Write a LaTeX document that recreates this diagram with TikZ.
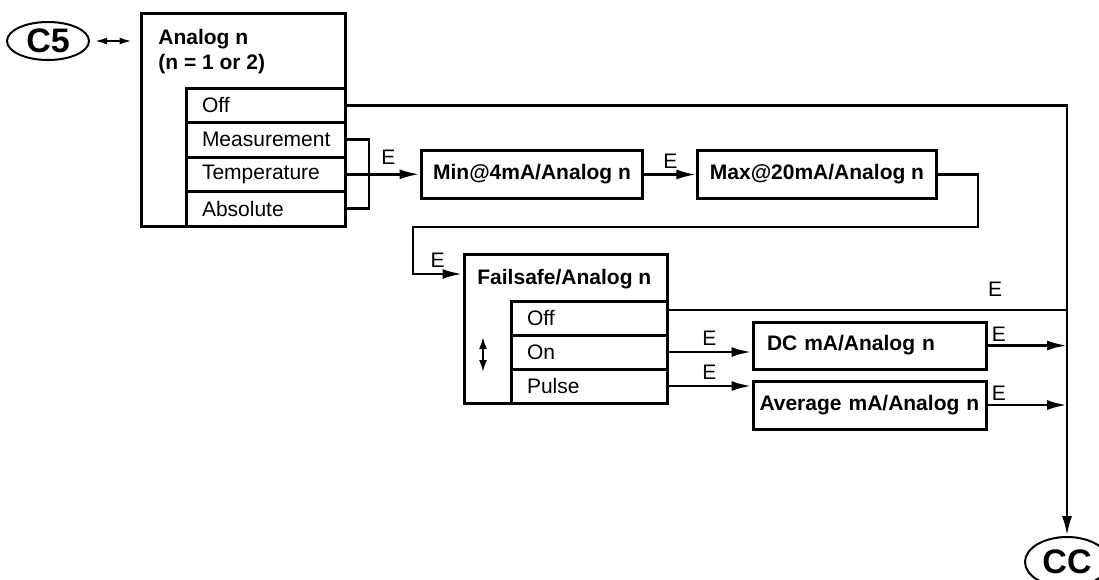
\documentclass[tikz,border=0pt]{standalone}
\usepackage{fontspec}
\setmainfont{Liberation Sans}
\usetikzlibrary{shapes.geometric, arrows.meta, positioning}

\newcommand{\menufont}{\fontsize{10.5}{12.5}\selectfont}

\begin{document}
\begin{tikzpicture}[
    x=0.5pt, y=-0.5pt,
    every node/.style={font=\menufont},
    frame/.style={rectangle, draw, line width=1.5pt, inner sep=0pt},
    item/.style={rectangle, draw, line width=1.5pt, outer sep=0pt, text width=#1, inner xsep=8pt, inner ysep=0pt, align=left},
    block/.style={rectangle, draw, line width=1.5pt, font=\menufont\bfseries, inner xsep=6pt, minimum height=24pt},
    title/.style={font=\menufont\bfseries, inner sep=0pt, align=left},
    term/.style={ellipse, draw, line width=1pt, font=\fontsize{17}{20}\selectfont\bfseries, inner sep=0pt},
    line/.style={draw, line width=1.4pt, -{Latex[length=10pt, width=5pt]}},
    wire/.style={draw, line width=1.4pt},
    twoway/.style={draw, line width=0.9pt, {Latex[length=6pt, width=3.5pt]}-{Latex[length=6pt, width=3.5pt]}},
    elabel/.style={above, inner sep=2.5pt}
]
    \useasboundingbox (0,0) rectangle (1099,579);

    % Nodes
    \node [term, minimum width=41pt, minimum height=19pt] (c5) at (48,41) {C5};
    \node [frame, minimum width=102pt, minimum height=106.5pt] (analog) at (243,119.5) {};
    \node [title, anchor=north west] (analogtitle) at (158,29) {Analog n\\(n = 1 or 2)};
    \node [item=63.5pt, minimum height=17.25pt, anchor=north west] (aoff) at (186,88) {Off};
    \node [item=63.5pt, minimum height=17.25pt, below=0pt of aoff] (ameas) {Measurement};
    \node [item=63.5pt, minimum height=17.25pt, below=0pt of ameas] (atemp) {Temperature};
    \node [item=63.5pt, minimum height=17.25pt, below=0pt of atemp] (aabs) {Absolute};

    \node [block, minimum width=110pt] (minbox) at (532,174.5) {Min@4mA/Analog n};
    \node [block, minimum width=118.5pt, right=26pt of minbox] (maxbox) {Max@20mA/Analog n};

    \node [frame, minimum width=101.5pt, minimum height=74.5pt] (failsafe) at (565.5,328.5) {};
    \node [title, anchor=west] (fstitle) at (477,279) {Failsafe/Analog n};
    \node [item=62pt, minimum height=17pt, anchor=north west] (fsoff) at (511,301) {Off};
    \node [item=62pt, minimum height=17pt, below=0pt of fsoff] (fson) {On};
    \node [item=62pt, minimum height=17pt, below=0pt of fson] (fspulse) {Pulse};

    \node [block, text width=102.5pt, inner xsep=7pt, align=left, minimum height=23.5pt] (dcbox) at (869.5,345.5) {DC mA/Analog n};
    \node [block, text width=110pt, inner xsep=3.25pt, align=left, below=4.5pt of dcbox] (avgbox) {Average mA/Analog n};

    \node [term, minimum width=42pt, minimum height=25pt] (cc) at (1067,562) {CC};

    \coordinate (turn1) at (978,227);
    \coordinate (turn2) at (413,274);

    % Edges
    \path [twoway, shorten <=2.5pt, shorten >=4pt] (c5) -- (analog.west |- c5);
    \path [line] (aoff.east) -| (cc.north);
    \path [wire] (ameas.east) -- ++(24,0) |- (aabs.east);
    \path [line] (atemp.east) -- node [elabel, pos=0.58, inner sep=4pt] {E} (minbox.west |- atemp.east);
    \path [line] (minbox) -- node [elabel] {E} (maxbox);
    \path [line] (maxbox.east) -| (turn1) -| (turn2) -- node [elabel] {E} (failsafe.west |- turn2);
    \path [wire] ([yshift=4pt]fsoff.east) -- node [elabel, pos=0.82, inner sep=6pt] {E} ([yshift=4pt]fsoff.east -| cc.north);
    \path [line] (fson.east) -- node [elabel] {E} (fson.east -| dcbox.west);
    \path [line] (fspulse.east) -- node [elabel] {E} (fspulse.east -| avgbox.west);
    \path [line] (dcbox.east) -- node [anchor=south west, pos=0, inner sep=1.5pt] {E} (dcbox.east -| cc.north);
    \path [line] (avgbox.east) -- node [anchor=south west, pos=0, inner sep=1.5pt] {E} (avgbox.east -| cc.north);
    \path [draw, line width=1pt, {Latex[length=6pt, width=4pt]}-{Latex[length=6pt, width=4pt]}] (483,337) -- (483,372);
\end{tikzpicture}
\end{document}
